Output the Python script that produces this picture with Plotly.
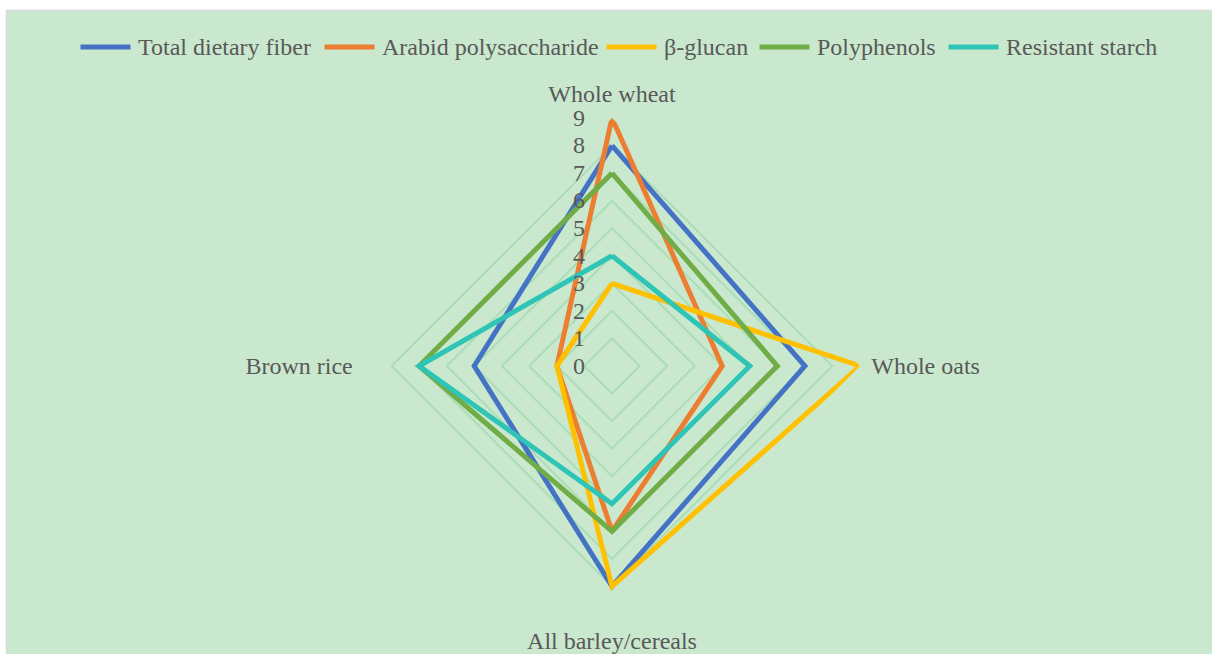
import plotly.graph_objects as go

# Grain categories placed around the radar (clockwise from the top)
categories = ["Whole wheat", "Whole oats", "All barley/cereals", "Brown rice"]

# Component scores per grain
total_dietary_fiber = [8, 7, 8, 5]
arabid_polysaccharide = [9, 4, 6, 2]
beta_glucan = [3, 9, 8, 2]
polyphenols = [7, 6, 6, 7]
resistant_starch = [4, 5, 5, 7]

radial_ticks = [0, 1, 2, 3, 4, 5, 6, 7, 8, 9]

series_names = ["Total dietary fiber", "Arabid polysaccharide", "β-glucan",
                "Polyphenols", "Resistant starch"]
series_values = [total_dietary_fiber, arabid_polysaccharide, beta_glucan,
                 polyphenols, resistant_starch]
series_colors = ["#4472C4", "#ED7D31", "#FFC000", "#70AD47", "#2EC4B6"]

W, H = 1212, 654
FONT = "Liberation Serif, Times New Roman, serif"
TEXT = "#595959"
FS = 24

fig = go.Figure()
for name, vals, color in zip(series_names, series_values, series_colors):
    fig.add_trace(go.Scatterpolar(
        r=vals + vals[:1],
        theta=categories + categories[:1],
        mode="lines",
        name=name,
        showlegend=False,
        line=dict(color=color, width=5),
    ))

# Chart area: light green panel with a thin grey frame
fig.add_shape(
    type="rect", xref="paper", yref="paper",
    x0=6.5 / W, x1=1.02, y0=-0.02, y1=1 - 10.5 / H,
    fillcolor="#C9E8CE", line=dict(color="#D9D9D9", width=1.5),
    layer="below",
)

# Legend row across the top: long rounded swatch followed by its label
legend_starts = [78, 322, 604, 757, 946]
swatch_len = 55
legend_y = 1 - 47 / H
for name, color, x0 in zip(series_names, series_colors, legend_starts):
    fig.add_shape(
        type="line", xref="paper", yref="paper",
        x0=(x0 + 2.5) / W, x1=(x0 + swatch_len - 2.5) / W, y0=legend_y, y1=legend_y,
        line=dict(color=color, width=5),
    )
    fig.add_annotation(
        xref="paper", yref="paper", x=(x0 + swatch_len + 3) / W, y=legend_y,
        xanchor="left", yanchor="middle", text=name, showarrow=False,
        font=dict(family=FONT, size=FS, color=TEXT),
    )

cx, cy, R = 612, 366, 248
fig.update_layout(
    width=W, height=H,
    margin=dict(l=0, r=0, t=0, b=0),
    paper_bgcolor="white",
    font=dict(family=FONT, size=FS, color=TEXT),
    showlegend=False,
    polar=dict(
        domain=dict(x=[(cx - R) / W, (cx + R) / W],
                    y=[(H - cy - R) / H, (H - cy + R) / H]),
        bgcolor="rgba(0,0,0,0)",
        gridshape="linear",
        radialaxis=dict(
            range=[0, 9], tickvals=radial_ticks, ticktext=[str(t) for t in radial_ticks],
            angle=90, side="counterclockwise", tickangle=90,
            showline=False, ticks="outside", ticklen=18, tickcolor="rgba(0,0,0,0)",
            gridcolor="#ABDDB7", gridwidth=1.5,
            tickfont=dict(family=FONT, size=FS, color=TEXT),
        ),
        angularaxis=dict(
            direction="clockwise", rotation=90,
            showline=False, showgrid=False,
            ticks="outside", ticklen=6, tickcolor="rgba(0,0,0,0)",
            tickfont=dict(family=FONT, size=FS, color=TEXT),
        ),
    ),
)

fig.write_html("out.html")
